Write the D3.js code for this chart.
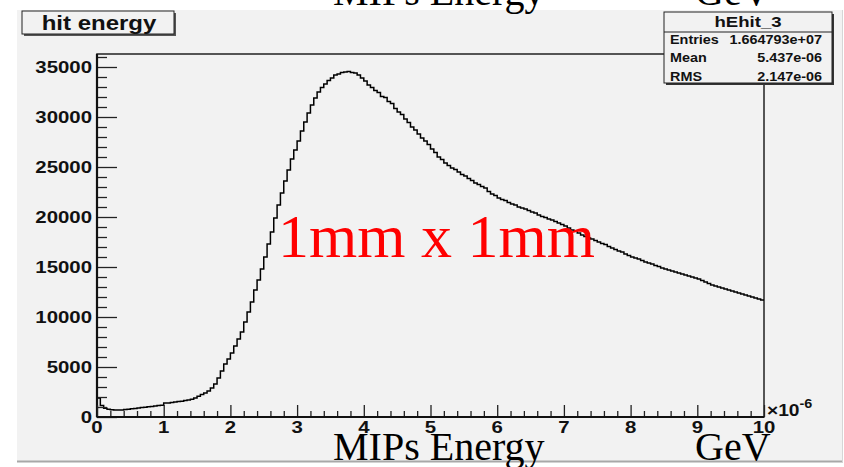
<!DOCTYPE html>
<html>
<head>
<meta charset="utf-8">
<script src="https://cdn.jsdelivr.net/npm/d3@7"></script>
<style>
  body { margin: 0; background: #fff; }
  svg { display: block; }
</style>
</head>
<body>
<script>
//canvas size
var w = 844, h = 467;

//histogram: 200 bins from 0 to 10 (x 1e-6 GeV), counts
var binWidth = 0.05;
var counts = [
    1900, 1150, 880, 770, 720, 700, 690, 710, 740, 780, 830, 860, 900, 950, 980, 1030, 1060, 1100, 1150, 1180,
    1400, 1410, 1450, 1490, 1540, 1570, 1640, 1690, 1780, 1900, 2080, 2250, 2400, 2600, 2900, 3300, 3900, 4600, 5300, 5800,
    6400, 7100, 7800, 8500, 9500, 10500, 11500, 12700, 13700, 14800, 16000, 17300, 18500, 19900, 21200, 22400, 23600, 24700, 25800, 26700,
    27600, 28600, 29500, 30400, 31200, 31900, 32500, 32950, 33300, 33650, 33900, 34200, 34300, 34450, 34500, 34550, 34450, 34400, 34200, 33900,
    33600, 33200, 32950, 32650, 32450, 32050, 31950, 31550, 31350, 30850, 30500, 30250, 29800, 29450, 29000, 28700, 28300, 27900, 27600, 27250,
    26800, 26450, 26000, 25750, 25400, 25150, 24900, 24750, 24500, 24250, 24100, 23850, 23650, 23400, 23250, 23050, 22900, 22550, 22300, 22150,
    21900, 21750, 21650, 21450, 21300, 21200, 21000, 20900, 20800, 20650, 20500, 20400, 20200, 20050, 19950, 19800, 19700, 19550, 19400, 19250,
    19100, 18900, 18700, 18600, 18400, 18200, 18050, 17900, 17800, 17650, 17500, 17350, 17250, 17050, 16900, 16750, 16600, 16500, 16300, 16150,
    16000, 15900, 15800, 15650, 15500, 15400, 15300, 15150, 15050, 14900, 14800, 14700, 14600, 14500, 14400, 14300, 14200, 14100, 14000, 13900,
    13800, 13650, 13500, 13350, 13200, 13100, 13000, 12900, 12800, 12700, 12600, 12500, 12400, 12300, 12200, 12100, 12000, 11900, 11800, 11700
];

//axis ticks
var xMajor = [0, 1, 2, 3, 4, 5, 6, 7, 8, 9, 10];
var yMajor = [0, 5000, 10000, 15000, 20000, 25000, 30000, 35000];

//stats box contents
var statName = "hEhit_3";
var statLabels = ["Entries", "Mean", "RMS"];
var statValues = ["1.664793e+07", "5.437e-06", "2.147e-06"];

var svg = d3.select("body")
    .append("svg")
    .attr("width", w)
    .attr("height", h);

var sans = "'Liberation Sans', Arial, Helvetica, sans-serif";
var serif = "'Liberation Serif', 'Times New Roman', serif";

//ROOT text is stretched sideways in the picture
function rootText(x, y, str, size, anchor) {
    return svg.append("text")
        .attr("transform", "translate(" + x + "," + y + ") scale(1.2,1)")
        .attr("text-anchor", anchor || "start")
        .style("font-family", sans)
        .style("font-weight", "bold")
        .style("font-size", size + "px")
        .style("fill", "#111")
        .text(str);
}

//canvas pad
svg.append("rect")
    .attr("x", 17).attr("y", 10)
    .attr("width", 825).attr("height", 451)
    .style("fill", "#f2f2f2");
svg.append("line")
    .attr("x1", 17).attr("x2", 843).attr("y1", 461.5).attr("y2", 461.5)
    .style("stroke", "#a8a8a8").style("stroke-width", 2);
svg.append("line")
    .attr("x1", 842.5).attr("x2", 842.5).attr("y1", 10).attr("y2", 462)
    .style("stroke", "#d6d6d6").style("stroke-width", 1);

//scales
var x = d3.scaleLinear().domain([0, 10]).range([97, 764]);
var y = d3.scaleLinear().domain([0, 36300]).range([417, 54]);

//frame
svg.append("rect")
    .attr("x", x(0)).attr("y", y(36300))
    .attr("width", x(10) - x(0)).attr("height", y(0) - y(36300))
    .style("fill", "#f2f2f2")
    .style("stroke", "#222")
    .style("stroke-width", 1.5);

//histogram as steps
var pts = counts.map(function(d, i) { return [i * binWidth, d]; });
pts.push([10, counts[counts.length - 1]]);
var line = d3.line()
    .x(function(d) { return x(d[0]); })
    .y(function(d) { return y(d[1]); })
    .curve(d3.curveStepAfter);
svg.append("path")
    .datum(pts)
    .attr("d", line)
    .style("fill", "none")
    .style("stroke", "#000")
    .style("stroke-width", 1.5);

//y axis
var yAxis = d3.axisRight(y)
    .tickValues(d3.range(0, 36001, 1000))
    .tickSize(0)
    .tickFormat("");
var yg = svg.append("g").attr("transform", "translate(" + x(0) + ",0)").call(yAxis);
yg.select(".domain").remove();
yg.selectAll(".tick line")
    .attr("x2", function(d) { return d % 5000 === 0 ? 20 : 10; })
    .style("stroke", "#222").style("stroke-width", 1.3);
svg.append("line")
    .attr("x1", x(0)).attr("x2", x(0)).attr("y1", y(0)).attr("y2", y(36300))
    .style("stroke", "#111").style("stroke-width", 2.2);

yMajor.forEach(function(v) {
    rootText(x(0) - 5, y(v) + 6, String(v), 17, "end");
});

//x axis
var xAxis = d3.axisTop(x)
    .tickValues(d3.range(0, 51).map(function(i) { return i * 0.2; }))
    .tickSize(0)
    .tickFormat("");
var xg = svg.append("g").attr("transform", "translate(0," + y(0) + ")").call(xAxis);
xg.select(".domain").remove();
xg.selectAll(".tick line")
    .attr("y2", function(d) { return Math.abs(d - Math.round(d)) < 1e-6 ? -12 : -6; })
    .style("stroke", "#222").style("stroke-width", 1.3);
svg.append("line")
    .attr("x1", x(0)).attr("x2", x(10)).attr("y1", y(0)).attr("y2", y(0))
    .style("stroke", "#111").style("stroke-width", 2);

xMajor.forEach(function(v) {
    rootText(x(v), 433, String(v), 17, "middle");
});

//exponent label
var ex = rootText(x(10) + 3, 416, "\u00d710", 16, "start");
ex.append("tspan").attr("dy", -8).style("font-size", "12px").text("-6");

//title box
svg.append("rect")
    .attr("x", 24).attr("y", 13).attr("width", 152).attr("height", 23)
    .style("fill", "#555");
svg.append("rect")
    .attr("x", 22).attr("y", 11).attr("width", 152).attr("height", 23)
    .style("fill", "#f2f2f2").style("stroke", "#222").style("stroke-width", 1);
rootText(99, 30, "hit energy", 20, "middle");

//stats box
var sx = 664, sy = 12, sw = 168, sh = 71;
svg.append("rect")
    .attr("x", sx + 2).attr("y", sy + 2).attr("width", sw).attr("height", sh)
    .style("fill", "#333");
svg.append("rect")
    .attr("x", sx).attr("y", sy).attr("width", sw).attr("height", sh)
    .style("fill", "#f2f2f2").style("stroke", "#222").style("stroke-width", 1);
svg.append("line")
    .attr("x1", sx).attr("x2", sx + sw).attr("y1", 32).attr("y2", 32)
    .style("stroke", "#222").style("stroke-width", 1);
rootText(sx + sw / 2, 27, statName, 15.5, "middle");
statLabels.forEach(function(s, i) {
    rootText(670, 43.5 + i * 18.5, s, 12, "start");
    rootText(822, 43.5 + i * 18.5, statValues[i], 12, "end");
});

//overlaid serif labels
function serifText(xp, yp, str, size, color) {
    return svg.append("text")
        .attr("x", xp).attr("y", yp)
        .style("font-family", serif)
        .style("font-size", size + "px")
        .style("fill", color)
        .text(str);
}
serifText(333, 5, "MIPs Energy", 40, "#000");
serifText(695, 5, "GeV", 40, "#000");
serifText(333, 460, "MIPs Energy", 40, "#000");
serifText(695, 460, "GeV", 40, "#000");
serifText(278, 257, "1mm x 1mm", 62, "#ff0000");
</script>
</body>
</html>
